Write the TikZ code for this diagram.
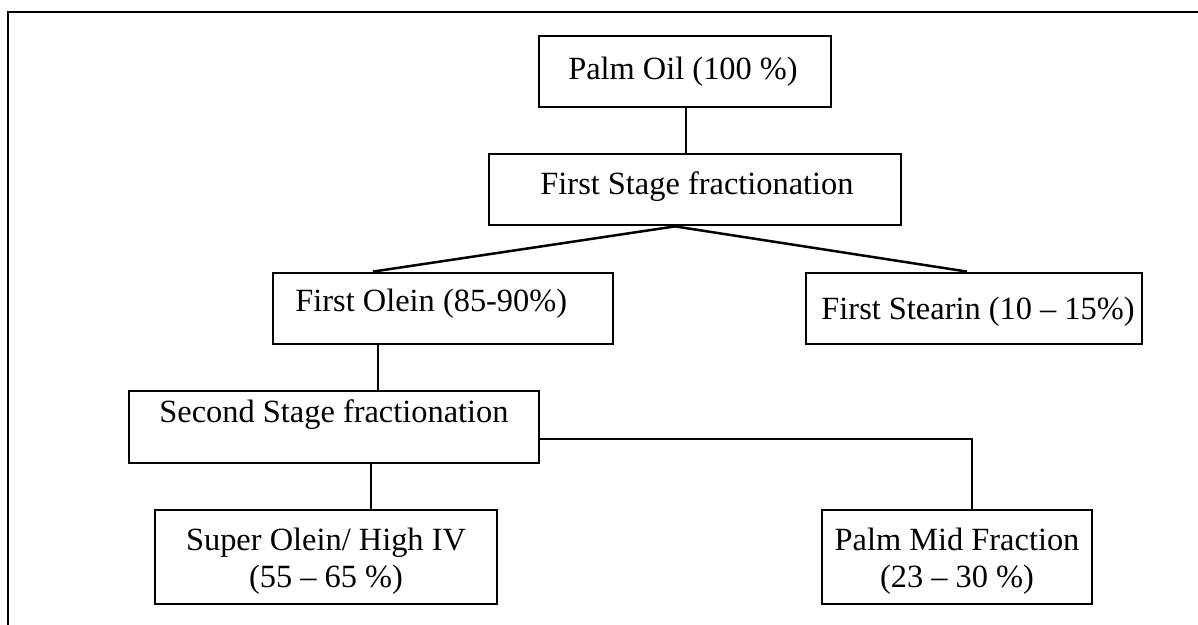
\documentclass[tikz,border=0pt]{standalone}
\usepackage{fontspec}
\setmainfont{Liberation Serif}
\usetikzlibrary{calc}
\begin{document}
\begin{tikzpicture}[x=0.5pt,y=-0.5pt,
  box/.style={draw, rectangle, line width=1.4pt, inner sep=0pt},
  txt/.style={font=\fontsize{16.2}{18.6}\selectfont, inner sep=0pt, anchor=base},
  conn/.style={line width=1.25pt},
  frame/.style={line width=1.4pt}]
\useasboundingbox (0,0) rectangle (1198,625);
% outer frame (top and left only)
\draw[frame] (8,625) -- (8,12) -- (1198,12);
% boxes
\node[box, minimum width=146pt, minimum height=35.5pt] (po)  at (685,71.5) {};
\node[box, minimum width=206pt, minimum height=35.5pt] (fs)  at (695,189.5) {};
\node[box, minimum width=170pt, minimum height=35.5pt] (fo)  at (443,308.5) {};
\node[box, minimum width=168pt, minimum height=35.5pt] (fst) at (974,308.5) {};
\node[box, minimum width=205pt, minimum height=36pt]   (ss)  at (334,427) {};
\node[box, minimum width=171pt, minimum height=47pt]   (so)  at (326,557) {};
\node[box, minimum width=135pt, minimum height=47pt]   (pm)  at (957,557) {};
% texts
\node[txt] (pot)  at (683,80)  {Palm Oil (100 \%)};
\node[txt] (fst1) at (697,195) {First Stage fractionation};
\node[txt, anchor=base west] (fot) at (295,312) {First Olein (85-90\%)};
\node[txt, anchor=base east] (fstt) at (1135,320) {First Stearin (10 – 15\%)};
\node[txt] (sst)  at (334,422) {Second Stage fractionation};
\node[txt] (so1)  at (326,550) {Super Olein/ High IV};
\node[txt] (so2)  at (326,587) {(55 – 65 \%)};
\node[txt] (pm1)  at (957,550) {Palm Mid Fraction};
\node[txt] (pm2)  at (957,587) {(23 – 30 \%)};
% connectors
\coordinate (a0) at ($(po.south)+(1,0)$);
\draw[conn] (a0) -- (a0 |- fs.north);
\coordinate (apex) at ($(fs.south)+(-20,0)$);
\coordinate (foin) at ($(fo.north)+(-70,0)$);
\coordinate (fstin) at ($(fst.north)+(-7,0)$);
\draw[conn] (foin) -- (apex) -- (fstin);
\coordinate (b0) at ($(fo.south)+(-65,0)$);
\draw[conn] (b0) -- (b0 |- ss.north);
\coordinate (c0) at ($(ss.south)+(37,0)$);
\draw[conn] (c0) -- (c0 |- so.north);
\coordinate (d0) at ($(ss.east)+(0,12)$);
\coordinate (d1) at ($(pm.north)+(15,0)$);
\draw[conn] (d0) -- (d0 -| d1) -- (d1);
\end{tikzpicture}
\end{document}
